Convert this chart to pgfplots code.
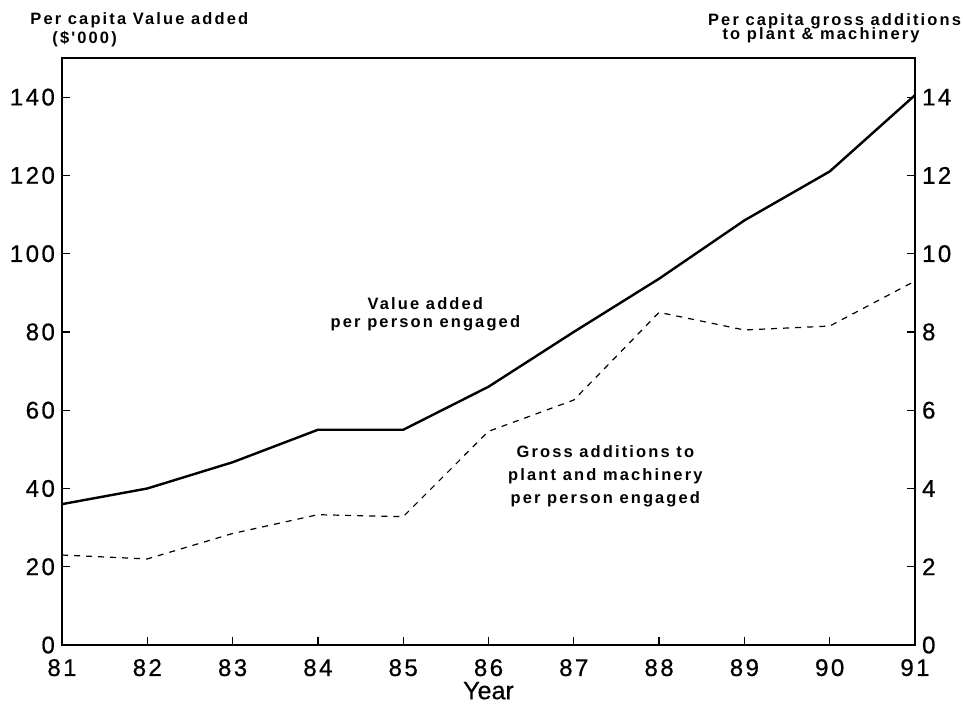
\documentclass[border=0pt]{standalone}
\usepackage{fontspec}
\setmainfont{Liberation Sans}
\newfontfamily\spaced[LetterSpace=13]{Liberation Sans}
\newfontfamily\tickfont[LetterSpace=10,FakeBold=0.6]{Liberation Sans}
\usepackage{pgfplots}
\pgfplotsset{compat=1.18}
\pgfplotsset{
  common/.style={
    width=425pt, height=292.5pt, scale only axis,
    xmin=81, xmax=91,
    tick align=inside, major tick length=4pt,
    tick style={black, line width=0.6pt},
    axis line style={line width=0.8pt},
    tick label style={font=\tickfont\fontsize{12}{14}\selectfont},
    /pgf/number format/assume math mode=true,
    clip=false,
  }
}
\begin{document}
\begin{tikzpicture}
\begin{axis}[common,
  ymin=0, ymax=150,
  xtick={81,82,...,91}, ytick={0,20,...,140},
  xtick pos=bottom, ytick pos=left,
  xticklabel style={yshift=-3.5pt},
  xlabel={Year},
  xlabel style={font=\fontsize{12.5}{14}\selectfont\addfontfeatures{FakeBold=0.4}, yshift=4pt},
]
\addplot[black, line width=1.2pt] coordinates {
(81,36) (82,40) (83,46.7) (84,55) (85,55) (86,66) (87,80) (88,93.6) (89,108.5) (90,121) (91,140.5)};
\node[anchor=west, inner sep=0pt, font=\spaced\bfseries\fontsize{8.2}{9}\selectfont] at (rel axis cs:-0.0375,1.0647) {Per capita Value added};
\node[anchor=west, inner sep=0pt, font=\spaced\bfseries\fontsize{8.2}{9}\selectfont] at (rel axis cs:-0.0117,1.032) {(\$'000)};
\node[anchor=west, inner sep=0pt, font=\spaced\bfseries\fontsize{8.2}{9}\selectfont] at (rel axis cs:0.757,1.063) {Per capita gross additions};
\node[anchor=west, inner sep=0pt, font=\spaced\bfseries\fontsize{8.2}{9}\selectfont] at (rel axis cs:0.774,1.039) {to plant \& machinery};
\node[align=center, font=\spaced\bfseries\fontsize{8.2}{9}\selectfont] at (axis cs:85.26,84.5) {Value added\\per person engaged};
\node[align=center, font=\spaced\bfseries\fontsize{8.2}{11.5}\selectfont] at (axis cs:87.37,43.2) {Gross additions to\\plant and machinery\\per person engaged};
\path (rel axis cs:-0.0727,-0.1039) coordinate (bbsw) (rel axis cs:1.0563,1.0988) coordinate (bbne);
\end{axis}
\begin{axis}[common,
  ymin=0, ymax=15,
  axis y line*=right, axis x line=none,
  ytick={0,2,...,14},
]
\addplot[black, line width=0.6pt, dash pattern=on 3pt off 3pt] coordinates {
(81,2.3) (82,2.2) (83,2.85) (84,3.33) (85,3.28) (86,5.46) (87,6.26) (88,8.5) (89,8.05) (90,8.15) (91,9.3)};
\end{axis}
\pgfresetboundingbox
\path[use as bounding box] (bbsw) rectangle (bbne);
\end{tikzpicture}
\end{document}
